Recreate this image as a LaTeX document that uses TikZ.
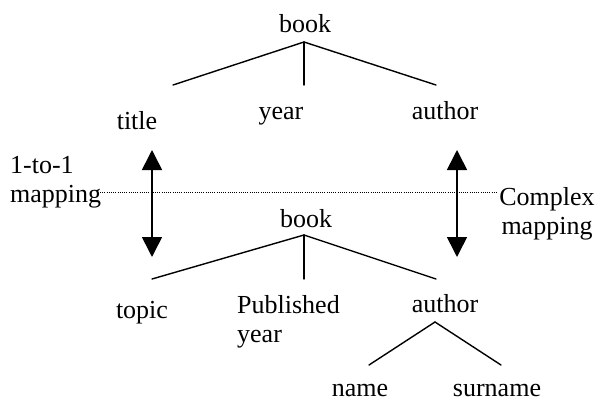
\documentclass[tikz,border=0pt]{standalone}
\usepackage{fontspec}
\setmainfont{Liberation Serif}
\usetikzlibrary{arrows.meta}
\begin{document}
\begin{tikzpicture}[x=1pt,y=-1pt,
  lbl/.style={inner sep=0pt, font=\fontsize{26}{29}\selectfont, anchor=base},
  treeline/.style={line width=1.4pt, line cap=round},
  maparrow/.style={line width=1.6pt, {Triangle[width=20pt,length=20pt]}-{Triangle[width=20pt,length=20pt]}},
  sepline/.style={line width=0.8pt, dash pattern=on 0.9pt off 1.3pt}]
\useasboundingbox (0,0) rectangle (597,401);
% upper tree
\node[lbl] (book1) at (305,33) {book};
\node[lbl] (title) at (137,130) {title};
\node[lbl] (year1) at (281,120) {year};
\node[lbl] (author1) at (445,120) {author};
\coordinate (j1) at (304,42);
\coordinate (e1a) at (173,85);
\coordinate (e1b) at (304,85);
\coordinate (e1c) at (436,85);
\draw[treeline] (j1) -- (e1a);
\draw[treeline] (j1) -- (e1b);
\draw[treeline] (j1) -- (e1c);
% side labels
\node[lbl, anchor=base west, align=left] (one) at (10,202) {1-to-1\\mapping};
\node[lbl, anchor=base, align=center] (complex) at (547,234) {Complex\\mapping};
\coordinate (dl) at (100,192);
\coordinate (dr) at (497,192);
\draw[sepline] (dl) -- (dr);
% mapping arrows
\coordinate (a1t) at (152,150);
\coordinate (a1b) at (152,257);
\coordinate (a2t) at (457,150);
\coordinate (a2b) at (457,257);
\draw[maparrow] (a1t) -- (a1b);
\draw[maparrow] (a2t) -- (a2b);
% lower tree
\node[lbl] (book2) at (306,227) {book};
\node[lbl] (topic) at (142,318) {topic};
\node[lbl, anchor=base west, align=left] (pubyear) at (237,342) {Published\\year};
\node[lbl] (author2) at (445,312) {author};
\node[lbl] (name) at (360,396) {name};
\node[lbl] (surname) at (497,396) {surname};
\coordinate (j2) at (304,235);
\coordinate (e2a) at (152,279);
\coordinate (e2b) at (304,279);
\coordinate (e2c) at (436,279);
\draw[treeline] (j2) -- (e2a);
\draw[treeline] (j2) -- (e2b);
\draw[treeline] (j2) -- (e2c);
\coordinate (j3) at (435,322);
\coordinate (e3a) at (369,365);
\coordinate (e3b) at (501,365);
\draw[treeline] (j3) -- (e3a);
\draw[treeline] (j3) -- (e3b);
\end{tikzpicture}
\end{document}
